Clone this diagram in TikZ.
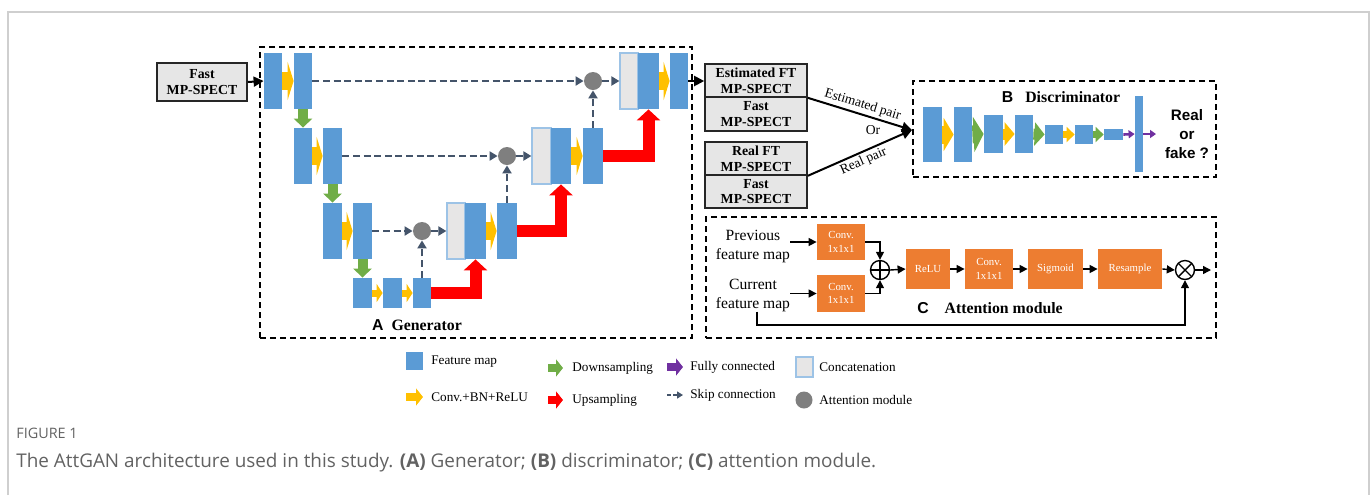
\documentclass[tikz,border=0pt]{standalone}
\usepackage{fontspec}
\setmainfont{Liberation Serif}
\newfontfamily\arialfont{Liberation Sans}
\newfontfamily\capfont{Open Sans}
\usetikzlibrary{fit,arrows.meta}

\definecolor{fmblue}{HTML}{5B9BD5}
\definecolor{convyellow}{HTML}{FFC000}
\definecolor{downgreen}{HTML}{70AD47}
\definecolor{fcpurple}{HTML}{7030A0}
\definecolor{skipgray}{HTML}{44546A}
\definecolor{attgray}{HTML}{7F7F7F}
\definecolor{catgray}{HTML}{E7E6E6}
\definecolor{catedge}{HTML}{9DC3E6}
\definecolor{amorange}{HTML}{ED7D31}
\definecolor{boxgray}{HTML}{E6E6E6}
\definecolor{capgray}{HTML}{626262}
\definecolor{framegray}{HTML}{CFCFCF}

\tikzset{
  fmap/.style={fill=fmblue, inner sep=0pt},
  catbox/.style={fill=catgray, draw=catedge, line width=0.6pt, inner sep=0pt},
  attcirc/.style={circle, fill=attgray, minimum size=9pt, inner sep=0pt},
  fat/.style n args={3}{line width=#1, -{Triangle[width=#2,length=#3]}},
  conv/.style={convyellow, fat={9pt}{19pt}{3pt}},
  convs/.style={convyellow, fat={3.5pt}{9pt}{3pt}},
  downsamp/.style={downgreen, fat={5pt}{9pt}{4.5pt}},
  upsamp/.style={red, fat={6pt}{11.5pt}{5.5pt}},
  skipconn/.style={skipgray, line width=1pt, dash pattern=on 3.5pt off 1.8pt,
    -{Triangle[width=4.5pt,length=4pt]}},
  gbox/.style={draw, line width=0.6pt, dash pattern=on 3pt off 2pt, inner sep=0pt},
  boxtxt/.style={inner sep=0pt, align=center, font=\bfseries\fontsize{6.9}{7.9}\selectfont},
  inbox/.style={draw=black!85, fill=boxgray, line width=0.8pt, inner sep=0pt,
    label={[boxtxt]center:#1}},
  arr/.style={line width=1pt, -{Triangle[width=5pt,length=5pt]}},
  attarr/.style={line width=0.7pt, -{Triangle[width=4pt,length=4pt]}},
  amodtxt/.style={inner sep=0pt, text=white, align=center, font=\fontsize{5.4}{6.6}\selectfont},
  amod/.style={fill=amorange, inner sep=0pt, label={[amodtxt]center:#1}},
  fmtxt/.style={inner sep=0pt, align=center, font=\fontsize{7.8}{9.5}\selectfont},
  ttl/.style={inner sep=0pt, font=\bfseries\fontsize{7.9}{9.5}\selectfont},
  pairlbl/.style={inner sep=1pt, font=\fontsize{6.8}{8}\selectfont},
  lgtxt/.style={inner sep=0pt, anchor=west, font=\fontsize{6.6}{8}\selectfont},
  sumnode/.style={circle, draw, line width=0.7pt, minimum size=9.5pt, inner sep=0pt,
    path picture={\draw[line width=0.7pt]
      (path picture bounding box.north) -- (path picture bounding box.south)
      (path picture bounding box.west) -- (path picture bounding box.east);}},
  prodnode/.style={circle, draw, line width=0.7pt, minimum size=9.5pt, inner sep=0pt,
    path picture={\draw[line width=0.7pt]
      (path picture bounding box.north west) -- (path picture bounding box.south east)
      (path picture bounding box.north east) -- (path picture bounding box.south west);}}
}

\begin{document}
\begin{tikzpicture}[x=0.5pt, y=-0.5pt]
  \useasboundingbox (0,0) rectangle (1372,495);
  \draw[framegray, line width=1pt] (8,495) -- (8,12) -- (1369,12) -- (1369,495);

  % generator
  \node[gbox, fit={(260,47) (692,338)}] (gen) {};
  \node[ttl] (gentitle) at (417,325) {{\arialfont A}\hspace{4pt}Generator};
  \node[inbox={Fast\\MP-SPECT}, fit={(157,63) (247,101)}] (inp) {};

  \node[fmap, fit={(264,53) (282,109)}] (a1) {};
  \node[fmap, fit={(294,53) (312,109)}] (a2) {};
  \node[fmap, fit={(294,128) (312,184)}] (b1) {};
  \node[fmap, fit={(323,128) (342,184)}] (b2) {};
  \node[fmap, fit={(323,203) (342,259)}] (c1) {};
  \node[fmap, fit={(353,203) (372,259)}] (c2) {};
  \node[fmap, fit={(353,278) (372,308)}] (d1) {};
  \node[fmap, fit={(383,278) (402,308)}] (d2) {};
  \node[fmap, fit={(413,278) (431,308)}] (d3) {};
  \node[catbox, fit={(447,203) (465,259)}] (e1g) {};
  \node[fmap, fit={(465,203) (486,259)}] (e1b) {};
  \node[fmap, fit={(497,203) (517,259)}] (e2) {};
  \node[catbox, fit={(532,128) (551,184)}] (f1g) {};
  \node[fmap, fit={(551,128) (571,184)}] (f1b) {};
  \node[fmap, fit={(583,128) (603,184)}] (f2) {};
  \node[catbox, fit={(620,53) (638,109)}] (g1g) {};
  \node[fmap, fit={(638,53) (659,109)}] (g1b) {};
  \node[fmap, fit={(670,53) (688,109)}] (g2) {};

  \node[attcirc] (att1) at (593,81) {};
  \node[attcirc] (att2) at (507,156) {};
  \node[attcirc] (att3) at (422,231) {};

  \draw[arr] (inp.east) -- (a1.west);
  \draw[conv] (a1.east) -- (a2.west);
  \draw[conv] (b1.east) -- (b2.west);
  \draw[conv] (c1.east) -- (c2.west);
  \draw[convs] (d1.east) -- (d2.west);
  \draw[convs] (d2.east) -- (d3.west);
  \draw[conv] (e1b.east) -- (e2.west);
  \draw[conv] (f1b.east) -- (f2.west);
  \draw[conv] (g1b.east) -- (g2.west);
  \draw[downsamp] (a2.south) -- (b1.north);
  \draw[downsamp] (b2.south) -- (c1.north);
  \draw[downsamp] (c2.south) -- (d1.north);
  \draw[upsamp] (d3.east) -| (e1b.south);
  \draw[upsamp] (e2.east) -| (f1b.south);
  \draw[upsamp] (f2.east) -| (g1b.south);

  \draw[skipconn] (a2.east) -- (att1.west);
  \draw[skipconn] (att1.east) -- (g1g.west);
  \draw[skipconn] (f2.north) -- (att1.south);
  \draw[skipconn] (b2.east) -- (att2.west);
  \draw[skipconn] (att2.east) -- (f1g.west);
  \draw[skipconn] (e2.north) -- (att2.south);
  \draw[skipconn] (c2.east) -- (att3.west);
  \draw[skipconn] (att3.east) -- (e1g.west);
  \draw[skipconn] (d3.north) -- (att3.south);

  % discriminator
  \node[inbox={Estimated FT\\MP-SPECT}, fit={(705,64) (807,97)}] (est) {};
  \node[inbox={Fast\\MP-SPECT}, fit={(705,97) (807,131)}] (fast1) {};
  \node[inbox={Real FT\\MP-SPECT}, fit={(705,142) (807,175)}] (real) {};
  \node[inbox={Fast\\MP-SPECT}, fit={(705,175) (807,208)}] (fast2) {};
  \draw[arr] (g2.east) -- (g2.east -| est.west);

  \coordinate (jn) at (912,130);
  \draw[arr] (est.south east) -- node[pairlbl, sloped, above] {Estimated pair} (jn);
  \draw[arr] (real.south east) -- node[pairlbl, sloped, below] {Real pair} (jn);
  \node[pairlbl] (ortxt) at (873,130) {Or};

  \node[gbox, fit={(913,81) (1216,177)}] (disc) {};
  \node[ttl] (disctitle) at (1061,97) {{\arialfont B}\hspace{6pt}Discriminator};
  \node[fmap, fit={(923,107) (942,162)}] (ds1) {};
  \node[fmap, fit={(954,107) (972,162)}] (ds2) {};
  \node[fmap, fit={(984,115) (1003,153)}] (ds3) {};
  \node[fmap, fit={(1015,115) (1033,153)}] (ds4) {};
  \node[fmap, fit={(1045,125) (1063,144)}] (ds5) {};
  \node[fmap, fit={(1075,125) (1093,144)}] (ds6) {};
  \node[fmap, fit={(1104,129) (1123,140)}] (ds7) {};
  \node[fmap, fit={(1135,96) (1143,172)}] (ds8) {};
  \node[inner sep=0pt, align=center, font=\arialfont\bfseries\fontsize{7.6}{9.5}\selectfont]
    (rof) at (1187,134) {Real\\or\\fake ?};
  \coordinate (fcend) at (1156,134);

  \draw[convyellow, fat={9pt}{16.5pt}{5pt}] (ds1.east) -- (ds2.west);
  \draw[downgreen, fat={9pt}{17.5pt}{5pt}] (ds2.east) -- (ds3.west);
  \draw[convyellow, fat={5.5pt}{11.5pt}{5pt}] (ds3.east) -- (ds4.west);
  \draw[downgreen, fat={5.5pt}{11.5pt}{5pt}] (ds4.east) -- (ds5.west);
  \draw[convyellow, fat={3.5pt}{7.5pt}{4pt}] (ds5.east) -- (ds6.west);
  \draw[downgreen, fat={3.5pt}{7.5pt}{4pt}] (ds6.east) -- (ds7.west);
  \draw[fcpurple, fat={1.3pt}{4pt}{3pt}] (ds7.east) -- (ds8.west);
  \draw[fcpurple, fat={1.3pt}{4pt}{3pt}] (ds8.east) -- (fcend);

  % attention module
  \node[gbox, fit={(706,217) (1216,338)}] (attbox) {};
  \node[ttl] (atttitle) at (990,308) {{\arialfont C}\hspace{8pt}Attention module};
  \node[fmtxt] (prev) at (753,246) {Previous\\feature map};
  \node[fmtxt] (cur) at (753,295) {Current\\feature map};
  \node[amod={Conv.\\1x1x1}, fit={(817,224) (865,260)}] (cv1) {};
  \node[amod={Conv.\\1x1x1}, fit={(817,275) (865,312)}] (cv2) {};
  \node[sumnode] (oplus) at (880,270) {};
  \node[amod={ReLU}, fit={(906,249) (950,289)}] (relu) {};
  \node[amod={Conv.\\1x1x1}, fit={(965,249) (1013,289)}] (cv3) {};
  \node[amod={Sigmoid}, fit={(1028,249) (1083,289)}] (sigm) {};
  \node[amod={Resample}, fit={(1098,249) (1162,289)}] (resamp) {};
  \node[prodnode] (otimes) at (1185,270) {};
  \coordinate (attout) at (1211,270);
  \coordinate (fb) at (757,325);

  \draw[attarr] (prev.east |- cv1.west) -- (cv1.west);
  \draw[attarr] (cur.east |- cv2.west) -- (cv2.west);
  \draw[attarr] (cv1.east) -| (oplus.north);
  \draw[attarr] (cv2.east) -| (oplus.south);
  \draw[attarr] (oplus.east) -- (relu.west);
  \draw[attarr] (relu.east) -- (cv3.west);
  \draw[attarr] (cv3.east) -- (sigm.west);
  \draw[attarr] (sigm.east) -- (resamp.west);
  \draw[attarr] (resamp.east) -- (otimes.west);
  \draw[attarr] (otimes.east) -- (attout);
  \draw[attarr] (cur.south -| fb) -- (fb) -| (otimes.south);

  % legend
  \node[fmap, fit={(406,352) (423,370)}] (lgfm) {};
  \node[lgtxt] (lgfmt) at (431,362) {Feature map};
  \node[lgtxt] (lgconv) at (431,397) {Conv.+BN+ReLU};
  \node[lgtxt] (lgdown) at (572,368) {Downsampling};
  \node[lgtxt] (lgup) at (572,400) {Upsampling};
  \node[lgtxt] (lgfc) at (690,367) {Fully connected};
  \node[lgtxt] (lgskip) at (690,395) {Skip connection};
  \node[catbox, fit={(796,357) (813,377)}] (lgcat) {};
  \node[lgtxt] (lgcatt) at (819,367) {Concatenation};
  \node[attcirc, minimum size=8.5pt] (lgatt) at (804,400) {};
  \node[lgtxt] (lgattt) at (819,400) {Attention module};
  \draw[convyellow, fat={4pt}{8.5pt}{3.5pt}] ([xshift=-12.5pt]lgconv.west) -- ([xshift=-4pt]lgconv.west);
  \draw[downgreen, fat={4pt}{8.5pt}{3.5pt}] ([xshift=-12pt]lgdown.west) -- ([xshift=-4.5pt]lgdown.west);
  \draw[red, fat={4pt}{8.5pt}{3.5pt}] ([xshift=-12pt]lgup.west) -- ([xshift=-4.5pt]lgup.west);
  \draw[fcpurple, fat={4pt}{8.5pt}{3.5pt}] ([xshift=-11.5pt]lgfc.west) -- ([xshift=-3.5pt]lgfc.west);
  \draw[skipgray, line width=0.8pt, dash pattern=on 2pt off 1.2pt, -{Triangle[width=3.5pt,length=3pt]}]
    ([xshift=-11.5pt]lgskip.west) -- ([xshift=-3.5pt]lgskip.west);

  % caption
  \node[anchor=west, inner sep=0pt, text=capgray, font=\capfont\fontsize{7.2}{8.5}\selectfont]
    (capnum) at (16,433) {FIGURE 1};
  \node[anchor=west, inner sep=0pt, text=capgray, font=\capfont\fontsize{9.45}{11}\selectfont]
    (captext) at (16,463) {The AttGAN architecture used in this study. {\bfseries (A)} Generator;
    {\bfseries (B)} discriminator; {\bfseries (C)} attention module.};
\end{tikzpicture}
\end{document}
